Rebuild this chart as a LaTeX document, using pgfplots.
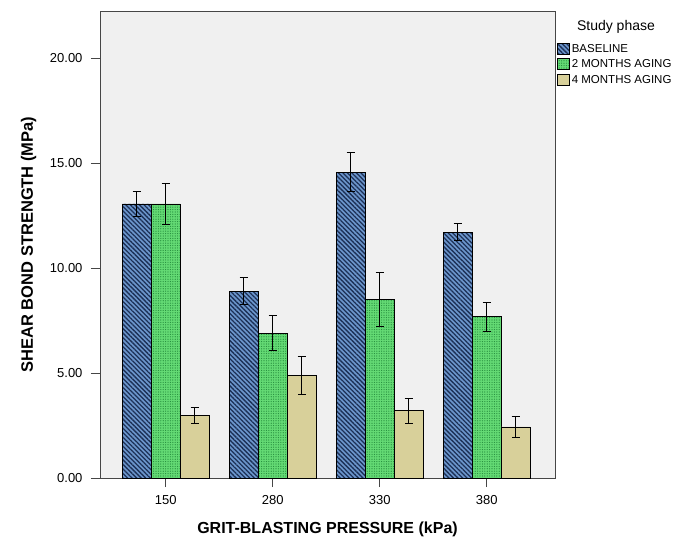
\documentclass[border=0pt]{standalone}
\usepackage{pgfplots}
\pgfplotsset{compat=1.18}
\usetikzlibrary{patterns.meta}
\usepackage{fontspec}
\setmainfont{Liberation Sans}
\definecolor{bluefill}{RGB}{108,150,204}
\definecolor{bluestripe}{RGB}{28,48,86}
\definecolor{greenfill}{RGB}{100,218,116}
\definecolor{greendot}{RGB}{36,140,60}
\definecolor{tanfill}{RGB}{216,208,154}
\definecolor{bggray}{RGB}{240,240,240}
\definecolor{axgray}{RGB}{70,70,70}
\begin{document}
\begin{tikzpicture}
\path[use as bounding box] (0,0) rectangle (686pt,536pt);
\begin{axis}[
  at={(100pt,58pt)}, anchor=south west,
  scale only axis, width=455pt, height=467pt,
  clip=false,
  ymin=0, ymax=22.24, xmin=-0.614, xmax=3.638,
  axis background/.style={fill=bggray},
  ybar=0pt, bar width=29pt,
  xtick={0,1,2,3}, xticklabels={150,280,330,380},
  ytick={0,5,10,15,20},
  tick align=outside, tick pos=left,
  major tick length=9pt,
  axis line style={draw=axgray, line width=0.8pt},
  every tick/.style={axgray, line width=0.9pt},
  /pgf/number format/assume math mode=true,
  ticklabel style={font=\fontsize{13}{15}\selectfont},
  yticklabel style={xshift=-5pt, /pgf/number format/.cd, fixed, fixed zerofill, precision=2},
  xticklabel style={yshift=-5pt},
  xlabel={GRIT-BLASTING PRESSURE (kPa)},
  ylabel={SHEAR BOND STRENGTH (MPa)},
  every axis x label/.style={at={(axis description cs:0.5,-0.1199)}, anchor=base, font=\fontsize{16}{18}\selectfont\bfseries},
  every axis y label/.style={at={(axis description cs:-0.1473,0.5)}, rotate=90, anchor=base, font=\fontsize{16.5}{19}\selectfont\bfseries},
  legend image code/.code={\draw[#1] (0pt,-5.5pt) rectangle (12pt,5.5pt);},
  legend style={at={(axis description cs:1.004,0.934)}, anchor=north west, draw=none, fill=none,
    font=\fontsize{11.5}{13}\selectfont, inner sep=0pt, row sep=2pt,
    /tikz/every even column/.append style={column sep=0pt}},
  legend cell align=left,
  error bars/y dir=both, error bars/y explicit,
  error bars/error bar style={black, line width=0.9pt},
  error bars/error mark options={black, line width=0.9pt, mark size=4pt, rotate=90},
]
\addplot[draw=black, line width=0.8pt, fill=bluefill,
  postaction={pattern color=bluestripe, pattern={Lines[angle=-45,distance=3.2pt,line width=1.3pt]}}]
  coordinates {(0,13.05) +- (0,0.60) (1,8.90) +- (0,0.65) (2,14.57) +- (0,0.92) (3,11.71) +- (0,0.42)};
\addplot[draw=black, line width=0.8pt, fill=greenfill,
  postaction={pattern color=greendot, pattern={Dots[distance=2.4pt,radius=0.6pt]}}]
  coordinates {(0,13.05) +- (0,0.99) (1,6.89) +- (0,0.83) (2,8.51) +- (0,1.27) (3,7.68) +- (0,0.70)};
\addplot[draw=black, line width=0.8pt, fill=tanfill]
  coordinates {(0,2.99) +- (0,0.39) (1,4.87) +- (0,0.91) (2,3.21) +- (0,0.59) (3,2.43) +- (0,0.48)};
\legend{BASELINE, 2 MONTHS AGING, 4 MONTHS AGING}
\node[font=\fontsize{14}{16}\selectfont, anchor=center] at (axis description cs:1.134,0.966) {Study phase};
\end{axis}
\end{tikzpicture}
\end{document}
